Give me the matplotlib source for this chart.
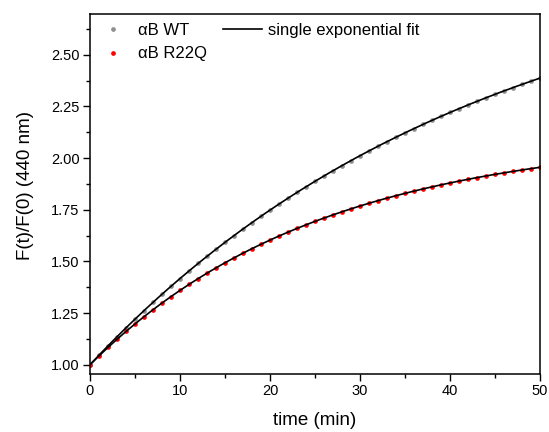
import numpy as np
import matplotlib
matplotlib.use("Agg")
import matplotlib.pyplot as plt
from matplotlib.ticker import MultipleLocator, FormatStrFormatter

plt.rcParams['font.family'] = ['Liberation Sans', 'DejaVu Sans']

# time points (min)
time_min = list(range(0, 51))

# normalised fluorescence F(t)/F(0) at 440 nm
wt = [1.000, 1.046, 1.091, 1.132, 1.178, 1.221, 1.262, 1.302, 1.341, 1.380,
      1.417, 1.454, 1.490, 1.525, 1.559, 1.592, 1.625, 1.657, 1.688, 1.719,
      1.749, 1.778, 1.806, 1.834, 1.861, 1.888, 1.914, 1.939, 1.964, 1.988,
      2.012, 2.035, 2.058, 2.080, 2.101, 2.122, 2.143, 2.163, 2.183, 2.202,
      2.221, 2.239, 2.257, 2.275, 2.292, 2.309, 2.325, 2.341, 2.357, 2.374,
      2.389]
r22q = [1.000, 1.043, 1.084, 1.123, 1.161, 1.197, 1.232, 1.266, 1.299, 1.330,
        1.360, 1.389, 1.416, 1.443, 1.469, 1.493, 1.517, 1.540, 1.562, 1.583,
        1.603, 1.623, 1.642, 1.660, 1.677, 1.694, 1.710, 1.725, 1.740, 1.755,
        1.768, 1.781, 1.794, 1.806, 1.818, 1.830, 1.840, 1.851, 1.861, 1.871,
        1.880, 1.889, 1.897, 1.906, 1.914, 1.921, 1.929, 1.936, 1.943, 1.949,
        1.956]

# single exponential fit parameters: y = 1 + A * (1 - exp(-k t))
fit_wt_amp, fit_wt_rate = 2.03, 0.023
fit_r22q_amp, fit_r22q_rate = 1.114, 0.039

fig = plt.figure(figsize=(5.49, 4.32), dpi=100)
ax = fig.add_axes([90 / 549, 1 - 374 / 432, 450 / 549, (374 - 13.5) / 432])

t_fine = np.linspace(0, 50, 400)

ax.plot(time_min, wt, 'o', color='#8f8f8f', ms=3.4, mec='none', label='\u03b1B WT', zorder=2)
ax.plot(time_min, r22q, 'o', color='#ff0000', ms=3.4, mec='none', label='\u03b1B R22Q', zorder=2)
ax.plot(t_fine, 1 + fit_wt_amp * (1 - np.exp(-fit_wt_rate * t_fine)),
        color='black', lw=1.2, label='single exponential fit', zorder=3)
ax.plot(t_fine, 1 + fit_r22q_amp * (1 - np.exp(-fit_r22q_rate * t_fine)),
        color='black', lw=1.2, zorder=3)

ax.set_xlim(0, 50)
ax.set_ylim(0.955, 2.70)
ax.xaxis.set_major_locator(MultipleLocator(10))
ax.xaxis.set_minor_locator(MultipleLocator(5))
ax.yaxis.set_major_locator(MultipleLocator(0.25))
ax.yaxis.set_minor_locator(MultipleLocator(0.125))
ax.yaxis.set_major_formatter(FormatStrFormatter('%.2f'))
ax.tick_params(which='both', direction='out', top=False, right=False,
               labelsize=10.5, colors='black')
ax.tick_params(which='major', length=5, width=1, pad=2.5)
ax.tick_params(which='minor', length=3, width=1)
for s in ax.spines.values():
    s.set_linewidth(1.1)

ax.set_xlabel('time (min)', fontsize=13.5, labelpad=10)
ax.set_ylabel('F(t)/F(0) (440 nm)', fontsize=13.5)
ax.yaxis.set_label_coords(-0.124, 0.524)

ax.legend(ncol=2, frameon=False, loc='upper left', bbox_to_anchor=(-0.026, 1.015),
          fontsize=12, handlelength=2.34, handletextpad=0.35, columnspacing=0.95,
          labelspacing=0.5, numpoints=1, borderpad=0.4)

fig.savefig('out.png', dpi=100)
